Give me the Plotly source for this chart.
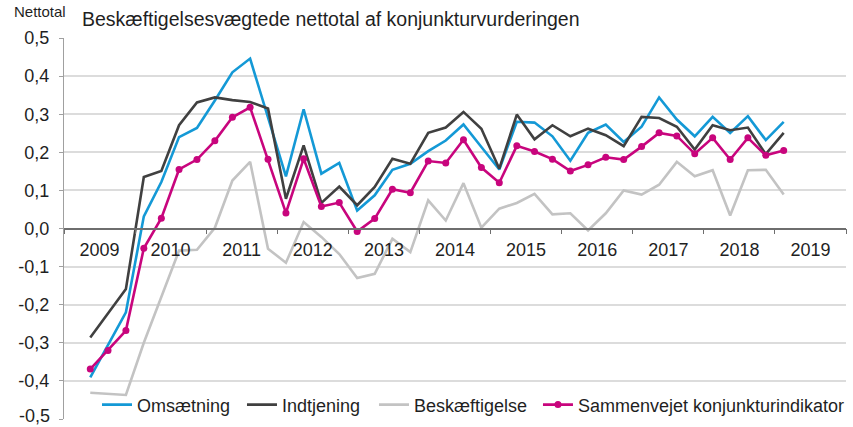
import pandas as pd
import plotly.graph_objects as go

# ── Data (quarterly, 2009 K2 – 2019 K1) ──────────────────────────────────────
quarters = pd.period_range("2009Q2", "2019Q1", freq="Q")

omsaetning = [
    -0.391, -0.305, -0.220, 0.032, 0.122, 0.240, 0.264, 0.336, 0.410, 0.446,
    0.294, 0.137, 0.313, 0.144, 0.172, 0.047, 0.087, 0.154, 0.170, 0.203,
    0.231, 0.273, 0.214, 0.155, 0.280, 0.278, 0.242, 0.178, 0.251, 0.273,
    0.227, 0.267, 0.344, 0.286, 0.242, 0.293, 0.251, 0.295, 0.232, 0.280,
]
indtjening = [
    -0.286, -0.222, -0.159, 0.135, 0.151, 0.271, 0.331, 0.344, 0.337, 0.332,
    0.315, 0.078, 0.218, 0.067, 0.110, 0.061, 0.109, 0.183, 0.170, 0.251,
    0.265, 0.306, 0.262, 0.157, 0.299, 0.234, 0.271, 0.242, 0.262, 0.245,
    0.216, 0.293, 0.290, 0.267, 0.207, 0.271, 0.258, 0.265, 0.195, 0.251,
]
beskaeftigelse = [
    -0.431, -0.434, -0.437, -0.300, -0.180, -0.058, -0.056, 0.002, 0.126, 0.175,
    -0.053, -0.090, 0.017, -0.022, -0.067, -0.130, -0.119, -0.027, -0.062, 0.074,
    0.021, 0.119, 0.002, 0.052, 0.067, 0.091, 0.037, 0.040, -0.005, 0.040,
    0.100, 0.089, 0.115, 0.175, 0.137, 0.153, 0.034, 0.153, 0.154, 0.089,
]
sammenvejet = [
    -0.369, -0.320, -0.268, -0.052, 0.027, 0.155, 0.181, 0.230, 0.292, 0.318,
    0.182, 0.041, 0.183, 0.058, 0.068, -0.008, 0.026, 0.103, 0.094, 0.177,
    0.172, 0.233, 0.160, 0.120, 0.217, 0.202, 0.182, 0.151, 0.167, 0.187,
    0.181, 0.215, 0.251, 0.243, 0.196, 0.238, 0.181, 0.238, 0.192, 0.205,
]

y_ticks = [0.5, 0.4, 0.3, 0.2, 0.1, 0.0, -0.1, -0.2, -0.3, -0.4, -0.5]
y_labels = ["0,5", "0,4", "0,3", "0,2", "0,1", "0,0",
            "-0,1", "-0,2", "-0,3", "-0,4", "-0,5"]

# points sit in the middle of each quarter
x = [(q.start_time + pd.Timedelta(days=45)).strftime("%Y-%m-%d") for q in quarters]

FONT = "Liberation Sans, Arial, sans-serif"
TEXT = "#1f1f1f"

# name, values, colour, marker size, legend id, legend x (plot fraction)
series = [
    ("Omsætning", omsaetning, "#1499D6", None, "legend", 0.0422),
    ("Indtjening", indtjening, "#404040", None, "legend2", 0.2276),
    ("Beskæftigelse", beskaeftigelse, "#C3C3C3", None, "legend3", 0.3964),
    ("Sammenvejet konjunkturindikator", sammenvejet, "#C8057D", 7, "legend4", 0.6061),
]

fig = go.Figure()
legends = {}
for name, vals, color, msize, leg, lx in series:
    fig.add_trace(go.Scatter(
        x=x, y=vals, name=name, legend=leg,
        mode="lines+markers" if msize else "lines",
        line=dict(color=color, width=2.6),
        marker=dict(size=msize or 1, color=color),
    ))
    legends[leg] = dict(
        orientation="h",
        x=lx, xanchor="left",
        y=0.037, yanchor="middle",
        bgcolor="rgba(0,0,0,0)",
        font=dict(size=18, color=TEXT, family=FONT),
        itemwidth=30,
    )

# the bottom label sits a touch higher, as in the original, so it is not clipped
bottom_label = y_labels[-1]
axis_labels = y_labels[:-1] + [""]

fig.update_layout(
    width=853, height=427,
    paper_bgcolor="white", plot_bgcolor="white",
    margin=dict(l=64, r=7, t=38, b=8, autoexpand=False),
    font=dict(family=FONT, color=TEXT, size=18),
    title=dict(
        text="Beskæftigelsesvægtede nettotal af konjunkturvurderingen",
        x=82 / 853, xanchor="left", xref="container",
        y=1 - 19 / 427, yanchor="middle", yref="container",
        font=dict(size=19.5, color=TEXT, family=FONT),
    ),
    annotations=[
        dict(
            text="Nettotal", xref="paper", yref="paper",
            x=-52 / 782, y=1 + 26 / 381, xanchor="left", yanchor="middle",
            showarrow=False, font=dict(size=15, color=TEXT, family=FONT),
        ),
        dict(
            text=bottom_label, xref="paper", yref="paper",
            x=-12 / 782, y=3 / 381, xanchor="right", yanchor="middle",
            showarrow=False, font=dict(size=18, color=TEXT, family=FONT),
        ),
    ],
    xaxis=dict(
        type="date",
        range=["2009-01-01", "2020-01-01"],
        tick0="2009-01-01", dtick="M12",
        tickformat="%Y", ticklabelmode="period",
        anchor="free", position=0.5, automargin=False,
        showline=True, linecolor="#6e6e6e", linewidth=1.5,
        ticks="outside", ticklen=5, tickcolor="#6e6e6e",
        showgrid=False, zeroline=False,
        tickfont=dict(size=18, color=TEXT),
    ),
    yaxis=dict(
        range=[-0.5, 0.5], automargin=False,
        tickvals=y_ticks, ticktext=axis_labels,
        showgrid=True, gridcolor="#dcdcdc", gridwidth=1.5,
        zeroline=False,
        showline=True, linecolor="#a0a0a0", linewidth=1,
        ticks="outside", ticklen=4, tickcolor="#a0a0a0",
        ticklabelstandoff=6,
        tickfont=dict(size=18, color=TEXT),
        domain=[0, 1],
    ),
    showlegend=True,
    **legends,
)

# drop the browser's default body margin so the figure sits at (0, 0)
fig.write_html(
    "out.html",
    config={"displayModeBar": False},
    post_script="document.body.style.margin='0';",
)
